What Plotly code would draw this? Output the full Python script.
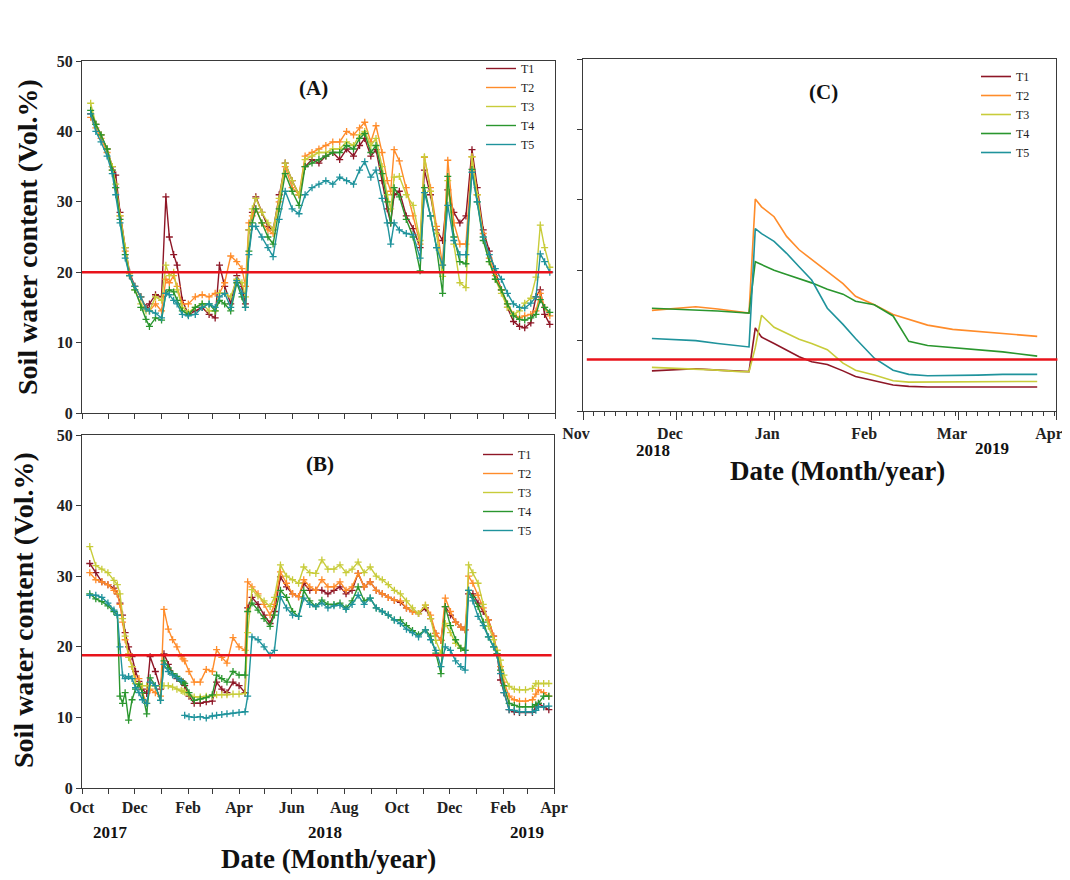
import plotly.graph_objects as go
import pandas as pd

# ---------------- Panel A (days since 2017-10-01) ----------------
A_DAY = [10, 16, 22, 29, 35, 39, 44, 50, 55, 61, 68, 74, 78, 85, 92, 97, 101, 106, 110, 116,
         123, 131, 139, 147, 154, 159, 165, 172, 179, 185, 189, 193, 197, 201, 208, 215, 221, 228, 235, 243,
         251, 258, 266, 274, 282, 290, 298, 306, 314, 321, 327, 334, 340, 347, 353, 357, 361, 367, 375, 383,
         391, 396, 403, 410, 417, 423, 430, 437, 444, 451, 457, 464, 471, 478, 485, 492, 499, 506, 512, 519,
         525, 530, 535, 541]
A_T1 = [42.5, 41.0, 39.5, 37.5, 35.0, 33.8, 28.5, 23.5, 20.0, 18.0, 16.5, 15.0, 15.5, 16.8, 16.5, 30.7, 25.0, 22.5, 21.0, 16.0,
        14.0, 14.5, 15.0, 14.0, 13.5, 21.0, 18.0, 15.5, 19.5, 18.0, 15.5, 26.0, 28.5, 30.7, 28.5, 26.5, 26.0, 31.0, 35.5, 33.0,
        31.0, 35.0, 36.0, 35.5, 36.5, 37.0, 36.0, 37.5, 36.5, 38.0, 39.0, 36.5, 37.4, 33.0, 29.0, 27.0, 31.0, 31.5, 28.0, 26.2,
        23.5, 34.5, 31.0, 26.0, 24.5, 31.7, 28.5, 27.0, 28.0, 37.4, 32.0, 26.0, 23.0, 20.0, 17.5, 15.0, 13.0, 12.3, 12.1, 12.8,
        16.5, 17.5, 14.0, 12.6]
A_T2 = [42.0, 40.5, 39.0, 37.0, 34.5, 32.0, 28.0, 23.0, 19.5, 18.0, 16.5, 14.8, 14.5, 15.5, 14.5, 19.0, 18.5, 19.5, 18.0, 15.5,
        15.5, 16.5, 16.8, 16.5, 17.0, 17.0, 18.5, 22.3, 21.5, 20.5, 18.0, 27.0, 28.0, 29.0, 27.0, 26.0, 25.5, 30.0, 35.0, 32.0,
        31.0, 36.5, 37.0, 37.5, 38.0, 38.5, 38.5, 40.0, 39.5, 40.5, 41.3, 38.5, 40.8, 37.0, 33.0, 31.5, 37.4, 35.8, 32.0, 28.0,
        24.0, 36.3, 32.0, 26.5, 21.0, 35.9, 27.0, 24.0, 24.0, 36.4, 31.0, 25.5, 22.0, 19.5, 17.5, 15.5, 14.0, 13.5, 13.8, 14.0,
        14.5, 17.0, 15.0, 13.8]
A_T3 = [44.0, 41.0, 39.5, 37.5, 35.0, 32.5, 28.0, 23.5, 19.8, 17.5, 15.5, 14.5, 14.5, 16.5, 16.0, 21.0, 19.5, 20.0, 17.5, 15.0,
        14.3, 15.0, 15.5, 14.5, 14.5, 17.0, 17.0, 16.5, 19.0, 18.5, 16.5, 26.0, 29.0, 30.5, 28.5, 27.0, 26.0, 30.5, 35.5, 33.0,
        31.0, 36.0, 36.5, 37.0, 37.0, 37.5, 37.5, 38.5, 38.0, 39.5, 40.0, 38.0, 39.0, 35.0, 31.0, 29.0, 33.5, 33.6, 31.0, 29.5,
        24.5, 36.4, 31.5, 25.5, 19.4, 33.0, 24.0, 18.5, 17.8, 36.4, 31.0, 25.0, 21.5, 19.0, 17.0, 15.0, 14.0, 14.5, 15.6, 16.3,
        19.3, 26.7, 23.5, 20.7]
A_T4 = [43.0, 41.0, 39.5, 37.5, 34.5, 32.0, 27.5, 22.5, 19.5, 17.5, 15.0, 13.3, 12.3, 13.5, 13.2, 17.0, 17.5, 17.2, 16.0, 14.5,
        14.0, 15.0, 15.5, 15.5, 14.5, 16.0, 15.5, 14.5, 18.5, 16.5, 15.0, 23.0, 27.0, 29.0, 27.0, 25.0, 24.0, 29.0, 34.0, 31.5,
        29.5, 35.0, 35.5, 36.0, 36.5, 37.0, 37.0, 38.0, 37.5, 39.0, 39.7, 37.0, 38.0, 34.0, 30.0, 27.0, 32.0, 30.7, 27.5, 25.0,
        20.2, 32.0, 28.0, 23.5, 17.0, 33.6, 25.0, 21.5, 21.2, 34.6, 30.0, 24.5, 21.5, 19.0, 17.5, 15.5, 13.8, 13.3, 13.2, 13.5,
        14.0, 16.1, 15.0, 14.3]
A_T5 = [42.5, 40.0, 38.5, 36.5, 34.0, 31.0, 27.0, 22.0, 19.5, 18.0, 16.5, 14.8, 14.5, 14.2, 13.5, 17.0, 16.8, 16.0, 15.5, 14.0,
        13.8, 14.0, 15.0, 15.5, 15.0, 16.5, 17.0, 15.0, 18.8, 17.0, 15.0, 22.5, 26.5, 26.5, 25.0, 23.5, 22.2, 27.5, 31.5, 29.0,
        28.3, 31.0, 32.0, 32.5, 33.0, 32.5, 33.5, 33.0, 32.5, 34.5, 35.7, 33.5, 34.5, 30.5, 27.0, 24.0, 27.0, 26.0, 25.5, 25.3,
        22.0, 31.3, 28.0, 23.5, 21.0, 29.5, 24.5, 22.5, 22.5, 34.2, 30.0, 25.0, 22.5, 20.5, 19.0, 17.0, 15.5, 15.0, 14.9, 15.6,
        16.5, 22.6, 21.5, 20.0]

# ---------------- Panel B (days since 2017-10-01) ----------------
B_DAY = [9, 16, 23, 30, 37, 41, 44, 47, 50, 54, 58, 62, 66, 70, 75, 79, 85, 91, 95, 100,
         105, 110, 115, 117, 119, 124, 130, 137, 144, 151, 156, 162, 168, 175, 182, 189, 192, 197, 204, 211,
         218, 223, 230, 237, 244, 251, 257, 264, 271, 278, 285, 292, 299, 306, 313, 320, 327, 334, 341, 348,
         355, 362, 369, 376, 383, 390, 398, 404, 410, 416, 421, 427, 433, 439, 444, 448, 453, 459, 465, 471,
         477, 481, 485, 489, 495, 501, 507, 514, 522, 526, 529, 535, 541]
B_T1 = [31.8, 30.5, 29.2, 28.8, 28.3, 27.5, 26.2, 24.5, 22.0, 20.0, 18.6, 16.5, 15.1, 14.0, 13.4, 18.6, 16.5, 14.0, 19.0, 17.5,
        16.2, 15.5, 15.1, 15.0, 14.5, 13.0, 12.0, 12.0, 12.2, 12.3, 15.0, 14.0, 13.5, 15.0, 14.5, 13.5, 25.5, 27.0, 26.0, 24.5,
        23.3, 25.0, 29.9, 28.5, 27.5, 27.1, 29.0, 28.0, 28.0, 28.0, 27.5, 28.0, 28.5, 27.5, 28.0, 30.4, 28.5, 29.2, 28.0, 27.5,
        27.0, 26.6, 26.3, 25.5, 25.0, 24.7, 25.5, 24.0, 21.9, 20.9, 25.7, 24.5, 23.5, 22.8, 22.4, 27.5, 27.5, 26.2, 25.0, 23.8,
        21.5, 19.0, 15.3, 13.5, 11.1, 10.8, 10.7, 10.7, 10.7, 11.5, 12.0, 11.5, 11.1]
B_T2 = [30.5, 29.5, 29.2, 28.8, 28.0, 27.5, 26.0, 23.5, 21.0, 19.0, 17.2, 15.5, 15.5, 13.5, 12.0, 14.0, 13.5, 13.0, 25.3, 22.5,
        21.0, 20.0, 18.6, 18.3, 18.0, 16.5, 15.0, 15.0, 16.8, 16.5, 19.6, 18.5, 17.7, 21.3, 20.0, 19.5, 29.2, 28.5, 27.5, 26.0,
        24.5, 26.0, 30.6, 29.0, 27.5, 27.1, 29.5, 28.5, 28.0, 29.5, 28.5, 28.5, 29.2, 28.0, 28.5, 30.4, 28.5, 29.2, 28.0, 27.5,
        27.0, 26.6, 26.5, 25.5, 25.0, 24.7, 25.9, 24.5, 21.9, 20.9, 26.9, 25.0, 23.5, 22.8, 22.4, 30.0, 29.0, 27.3, 25.5, 23.8,
        21.5, 19.5, 17.2, 15.0, 13.0, 12.5, 12.3, 12.3, 12.5, 13.3, 13.9, 13.5, 13.0]
B_T3 = [34.2, 31.5, 31.0, 30.5, 29.4, 28.8, 27.5, 24.0, 21.5, 18.5, 17.2, 14.8, 14.7, 14.5, 14.5, 14.5, 14.5, 14.5, 14.5, 14.5,
        14.3, 14.0, 13.8, 13.7, 13.6, 13.2, 12.9, 12.9, 13.0, 13.0, 13.2, 13.2, 13.2, 13.3, 13.3, 13.4, 22.0, 28.1, 27.2, 26.5,
        25.7, 27.0, 31.6, 30.0, 29.5, 29.0, 31.3, 30.5, 30.4, 32.3, 31.0, 31.0, 31.6, 30.5, 31.0, 32.0, 30.5, 31.3, 30.0, 29.5,
        28.8, 28.0, 27.5, 26.5, 25.5, 24.7, 25.9, 24.0, 20.9, 19.1, 23.3, 22.0, 20.5, 19.8, 19.5, 31.6, 30.5, 29.0, 26.0, 22.9,
        21.0, 19.5, 18.1, 16.0, 14.4, 14.0, 13.9, 13.9, 14.1, 14.8, 14.8, 14.8, 14.8]
B_T4 = [27.5, 26.8, 26.4, 25.8, 25.0, 24.5, 13.0, 12.0, 13.5, 9.6, 12.5, 14.0, 14.7, 13.5, 10.5, 15.6, 14.5, 12.4, 18.0, 17.0,
        16.2, 15.8, 15.1, 15.0, 14.8, 13.5, 12.4, 12.6, 12.8, 13.2, 16.0, 15.5, 15.0, 16.5, 16.0, 16.0, 25.0, 26.2, 25.2, 24.0,
        22.9, 24.5, 28.0, 27.0, 25.0, 24.3, 28.0, 26.5, 25.7, 26.6, 26.0, 26.0, 26.2, 25.5, 26.5, 28.5, 26.5, 26.9, 25.5, 25.0,
        24.5, 23.8, 23.8, 23.0, 22.3, 21.7, 22.4, 21.5, 19.1, 16.2, 25.7, 23.0, 21.0, 19.8, 19.5, 28.0, 27.0, 25.7, 23.5, 21.4,
        20.0, 19.0, 16.7, 14.5, 12.0, 11.7, 11.5, 11.5, 11.5, 11.8, 12.0, 13.0, 13.0]
B_T5 = [27.3, 27.3, 27.0, 26.2, 25.2, 24.5, 20.0, 16.0, 15.5, 15.8, 15.5, 14.2, 13.5, 12.5, 12.0, 15.0, 14.5, 12.4, 17.5, 16.5,
        16.0, 15.6, 15.2, None, 10.3, 10.1, 10.0, 10.1, 9.9, 10.2, 10.3, 10.4, 10.5, 10.6, 10.7, 10.8, 13.0, 21.4, 21.0, 20.0,
        18.8, 19.5, 27.1, 25.5, 24.5, 24.3, 26.9, 26.0, 25.7, 26.2, 25.5, 25.8, 25.9, 25.3, 26.0, 27.3, 26.0, 26.9, 25.5, 25.0,
        24.5, 23.8, 23.3, 22.5, 22.0, 21.4, 22.4, 21.0, 19.5, 17.2, 20.0, 19.5, 18.0, 17.2, 16.7, 28.0, 26.5, 24.3, 23.0, 21.4,
        20.0, 18.8, 16.2, 13.5, 11.1, 11.0, 10.8, 10.8, 10.8, 11.0, 11.5, 11.5, 11.6]

# ---------------- Panel C ----------------
C_DATE = ["2018-11-23", "2018-11-30", "2018-12-07", "2018-12-14", "2018-12-21", "2018-12-24", "2018-12-26",
          "2018-12-28", "2019-01-01", "2019-01-05", "2019-01-09", "2019-01-13", "2019-01-18", "2019-01-23",
          "2019-01-27", "2019-02-02", "2019-02-08", "2019-02-13", "2019-02-19", "2019-02-27", "2019-03-07",
          "2019-03-15", "2019-03-26"]
C_T1 = [5.7, 5.9, 6.0, 5.8, 5.6, 5.6, 11.8, 10.5, 9.6, 8.7, 7.7, 7.0, 6.6, 5.7, 4.9, 4.3, 3.7, 3.5, 3.4, 3.4, 3.4, 3.4, 3.4]
C_T2 = [14.3, 14.6, 14.8, 14.5, 14.1, 13.9, 30.1, 29.0, 27.6, 24.8, 22.9, 21.5, 19.8, 18.1, 16.3, 15.1, 13.7, 13.0, 12.2, 11.6, 11.3, 11.0, 10.6]
C_T3 = [6.2, 6.1, 6.0, 5.8, 5.6, 5.6, 9.0, 13.6, 11.9, 11.0, 10.2, 9.6, 8.7, 6.8, 5.8, 5.1, 4.3, 4.1, 4.1, 4.1, 4.1, 4.2, 4.2]
C_T4 = [14.6, 14.5, 14.4, 14.2, 14.0, 13.9, 21.2, 20.8, 20.0, 19.4, 18.8, 18.2, 17.3, 16.6, 15.6, 15.1, 13.5, 9.9, 9.3, 9.0, 8.7, 8.4, 7.8]
C_T5 = [10.3, 10.1, 10.0, 9.6, 9.3, 9.1, 25.9, 25.2, 24.1, 22.4, 20.5, 18.6, 14.6, 12.3, 10.3, 7.5, 5.8, 5.2, 5.0, 5.0, 5.1, 5.2, 5.2]

NAMES = ["T1", "T2", "T3", "T4", "T5"]
COLORS = ["#8E1626", "#FF8C2A", "#C8CC3A", "#2A962E", "#1F939C"]
THRESH = {"A": 20.0, "B": 18.8, "C": 7.3}
BASE = pd.Timestamp("2017-10-01")

# page body has an 8px margin: size the figure so reference pixel coords map 1:1
OFF = 8
W, H = 1070 - OFF, 880 - OFF
def px(x):
    return (x - OFF) / W
def py(y):
    return 1 - (y - OFF) / H

FONT = "Liberation Serif"
AXC = "#3a3a3a"

fig = go.Figure()

def add_panel(dates, series, xa, ya, leg, markers=True, lw=1.4):
    for name, col, ys in zip(NAMES, COLORS, series):
        fig.add_trace(go.Scatter(
            x=dates, y=ys, mode="lines", name=name, legend=leg,
            line=dict(color=col, width=lw), xaxis=xa, yaxis=ya,
            connectgaps=False, hoverinfo="skip"))
        if markers:
            fig.add_trace(go.Scatter(
                x=dates, y=ys, mode="markers", showlegend=False,
                marker=dict(symbol="cross-thin", size=5, line=dict(color=col, width=1.3)),
                xaxis=xa, yaxis=ya, hoverinfo="skip"))

a_dates = [BASE + pd.Timedelta(days=d) for d in A_DAY]
b_dates = [BASE + pd.Timedelta(days=d) for d in B_DAY]
add_panel(a_dates, [A_T1, A_T2, A_T3, A_T4, A_T5], "x", "y", "legend")
add_panel(b_dates, [B_T1, B_T2, B_T3, B_T4, B_T5], "x2", "y2", "legend2")
add_panel(C_DATE, [C_T1, C_T2, C_T3, C_T4, C_T5], "x3", "y3", "legend3", markers=False, lw=1.6)

tickfont = dict(family=FONT, size=16, color="#222", weight="bold")

def xax(domain, anchor, rng, labels, dtick, mdtick, tick0, major_len=5, minor_len=5, shift=0):
    return dict(domain=domain, anchor=anchor, type="date", range=rng, automargin=False,
                tick0=tick0, dtick=dtick, tickformat="%b", ticks="outside", ticklen=major_len,
                tickcolor=AXC, showticklabels=labels, tickfont=tickfont, ticklabelshift=shift,
                minor=dict(dtick=mdtick, tick0=tick0, ticks="outside", ticklen=minor_len, tickcolor=AXC, showgrid=False),
                showline=True, linecolor=AXC, linewidth=1.2, mirror=True,
                showgrid=False, zeroline=False)

def yax(domain, anchor, labels):
    return dict(domain=domain, anchor=anchor, range=[0, 50], dtick=10, ticks="outside", automargin=False,
                ticklen=5, tickcolor=AXC, showticklabels=labels, tickfont=tickfont,
                showline=True, linecolor=AXC, linewidth=1.2, mirror=True,
                showgrid=False, zeroline=False)

fig.update_layout(
    template="none",
    width=W, height=H, margin=dict(l=0, r=0, t=0, b=0, autoexpand=False),
    paper_bgcolor="white", plot_bgcolor="white",
    xaxis=xax([px(82), px(555)], "y", ["2017-10-01", "2019-04-01"], False, "M2", "M1", "2017-10-01"),
    yaxis=yax([py(413), py(61)], "x", True),
    xaxis2=xax([px(82), px(554)], "y2", ["2017-10-01", "2019-04-01"], True, "M2", "M1", "2017-10-01"),
    yaxis2=yax([py(788), py(435)], "x2", True),
    xaxis3=xax([px(583), px(1056)], "y3", ["2018-11-01", "2019-04-01"], True, "M1", 3.5 * 86400000,
               "2018-11-01", major_len=8, minor_len=4, shift=-7),
    yaxis3=yax([py(411), py(59)], "x3", False),
)

legstyle = dict(font=dict(family=FONT, size=12, color="#222"), bgcolor="rgba(0,0,0,0)",
                xanchor="left", yanchor="top", tracegroupgap=0, borderwidth=0)
fig.update_layout(
    legend=dict(x=px(481), y=py(54), **legstyle),
    legend2=dict(x=px(478), y=py(440), **legstyle),
    legend3=dict(x=px(976), y=py(62), **legstyle),
)

# threshold lines
for xr, yr, key in [("x", "y", "A"), ("x2", "y2", "B"), ("x3", "y3", "C")]:
    x1 = 1.003 if key == "C" else 0.995
    x0 = 0.008 if key == "C" else 0.0
    fig.add_shape(type="line", xref=f"{xr} domain", yref=yr, x0=x0, x1=x1,
                  y0=THRESH[key], y1=THRESH[key], line=dict(color="#E8131B", width=2.5))

def ann(text, x, y, size, angle=0):
    fig.add_annotation(text=text, x=px(x), y=py(y), xref="paper", yref="paper",
                       showarrow=False, textangle=angle, xanchor="center", yanchor="middle",
                       font=dict(family=FONT, size=size, color="#111", weight="bold"))

ann("(A)", 313, 88, 21)
ann("(B)", 320, 464, 21)
ann("(C)", 823, 92, 21)
ann("Soil water content (Vol.%)", 27, 237, 28, -90)
ann("Soil water content (Vol.%)", 23, 610, 28, -90)
ann("Date (Month/year)", 328, 859, 27)
ann("Date (Month/year)", 837, 471, 27)
ann("2017", 110, 832, 17)
ann("2018", 325, 832, 17)
ann("2019", 527, 832, 17)
ann("2018", 653, 450, 17)
ann("2019", 992, 448, 17)

fig.write_html("out.html")
